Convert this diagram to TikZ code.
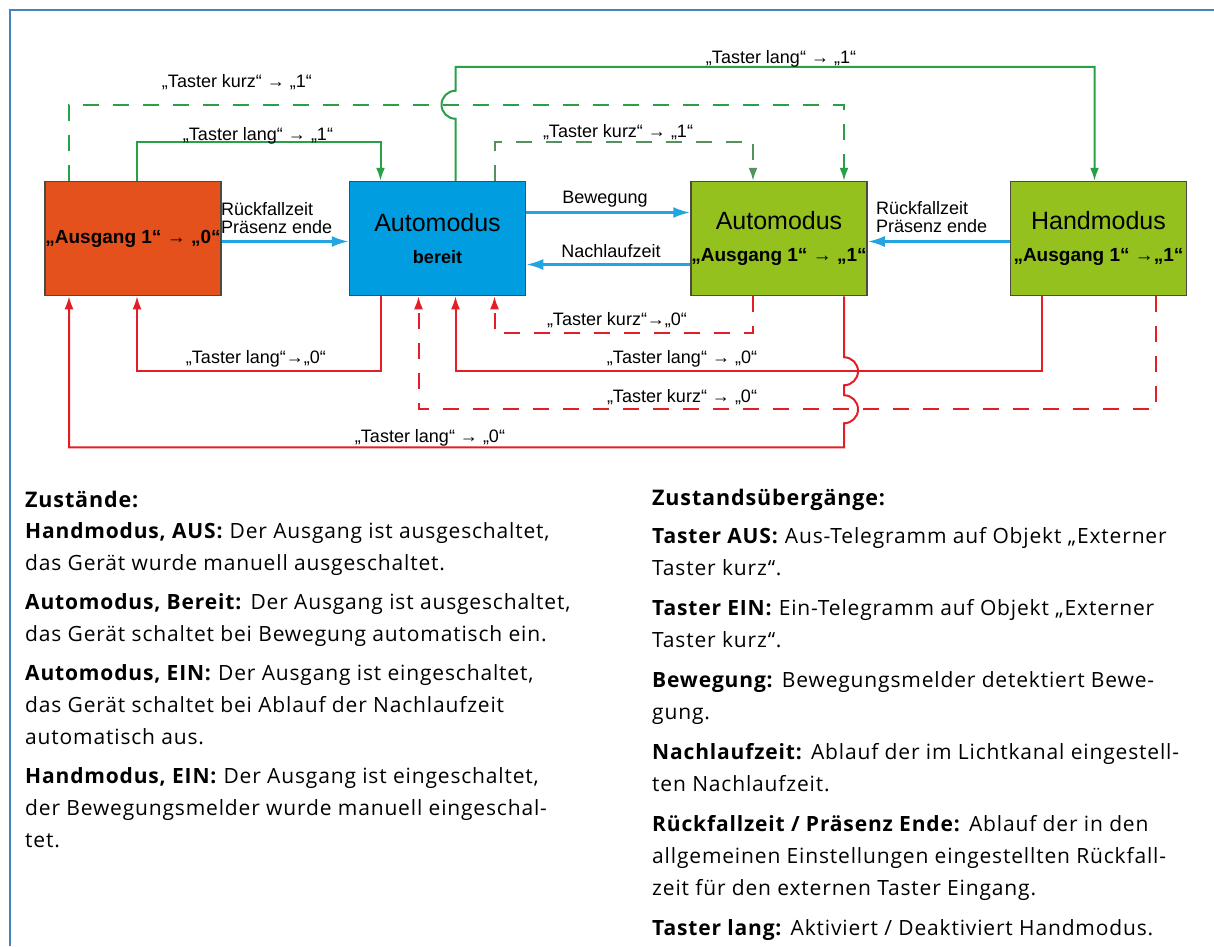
\documentclass[tikz,border=0pt]{standalone}
\usepackage{fontspec}
\setmainfont{Liberation Sans}
\newfontfamily\descfont{Open Sans}[LetterSpace=4.0]
\usetikzlibrary{positioning,arrows.meta}

\definecolor{rahmenblau}{RGB}{70,130,190}
\definecolor{ausorange}{RGB}{229,81,29}
\definecolor{bereitblau}{RGB}{0,158,224}
\definecolor{eingruen}{RGB}{149,193,31}
\definecolor{kastenrand}{RGB}{75,75,65}
\definecolor{pfeilgruen}{RGB}{40,160,70}
\definecolor{pfeilgrau}{RGB}{85,145,95}
\definecolor{pfeilrot}{RGB}{228,30,38}
\definecolor{pfeilblau}{RGB}{35,165,225}

\tikzset{
  zustand/.style={draw=kastenrand, line width=1.5pt, minimum width=176pt, minimum height=114pt, inner sep=0pt, align=center, font=\fontsize{25}{30}\selectfont},
  ein lang/.style={draw=pfeilgruen, line width=2pt, -{Latex[length=13pt,width=9pt]}},
  ein kurz/.style={ein lang, dash pattern=on 16pt off 14pt},
  aus lang/.style={draw=pfeilrot, line width=2pt, -{Latex[length=13pt,width=9pt]}},
  aus kurz/.style={aus lang, dash pattern=on 16pt off 14pt},
  zeit/.style={draw=pfeilblau, line width=2.5pt, -{Latex[length=17pt,width=11pt]}},
  beschr/.style={inner sep=0pt, anchor=base, font=\fontsize{18}{19}\selectfont},
  zweizeilig/.style={inner sep=0pt, anchor=north west, align=left, font=\fontsize{18}{18}\selectfont},
  kopf/.style={inner sep=0pt, anchor=base west, font=\descfont\fontsize{21.5}{28}\selectfont\bfseries},
  absatz/.style={inner sep=0pt, anchor=north west, align=left, font=\descfont\fontsize{21}{32}\selectfont},
}

\begin{document}
\begin{tikzpicture}[x=1pt, y=-1pt]
\useasboundingbox (0,0) rectangle (1214,946);
\draw[rahmenblau, line width=2pt] (10,946) -- (10,10) -- (1214,10);

\node[zustand, fill=ausorange] (aus) at (133,238.5) {\bfseries\fontsize{19}{22}\selectfont „Ausgang 1“ → „0“};
\node[zustand, fill=bereitblau, right=127pt of aus] (bereit) {Automodus\\[2pt]{\bfseries\fontsize{18}{20}\selectfont bereit}};
\node[zustand, fill=eingruen, right=164pt of bereit] (autoein) {Automodus\\[2pt]{\bfseries\fontsize{19}{20}\selectfont „Ausgang 1“ → „1“}};
\node[zustand, fill=eingruen, right=142pt of autoein] (handein) {Handmodus\\[2pt]{\bfseries\fontsize{19}{20}\selectfont „Ausgang 1“ →„1“}};

\draw[ein kurz] ([xshift=-64pt]aus.north) -- ++(0,-76) -| ([xshift=65pt]autoein.north);
\draw[ein lang] ([xshift=4pt]aus.north) -- ++(0,-39) -| ([xshift=-57pt]bereit.north);
\draw[ein lang] ([xshift=18pt]bereit.north) -- ++(0,-62) arc[start angle=270, end angle=90, radius=14pt] -- ++(0,-24) -| ([xshift=-4pt]handein.north);
\draw[ein kurz, draw=pfeilgrau] ([xshift=57pt]bereit.north) -- ++(0,-39) -| ([xshift=-26pt]autoein.north);

\draw[zeit] ([yshift=-3pt]aus.east) -- ([yshift=-3pt]bereit.west);
\draw[zeit] ([yshift=26pt]bereit.east) -- ([yshift=26pt]autoein.west);
\draw[zeit] ([yshift=-26pt]autoein.west) -- ([yshift=-26pt]bereit.east);
\draw[zeit] ([yshift=-3pt]handein.west) -- ([yshift=-3pt]autoein.east);

\draw[aus lang] ([xshift=-57pt]bereit.south) -- ++(0,75) -| ([xshift=4pt]aus.south);
\draw[aus kurz] ([xshift=-26pt]autoein.south) -- ++(0,37) -| ([xshift=57pt]bereit.south);
\draw[aus lang] ([xshift=-57pt]handein.south) -- ++(0,75) -| ([xshift=18pt]bereit.south);
\draw[aus kurz] ([xshift=57pt]handein.south) -- ++(0,113) -| ([xshift=-19pt]bereit.south);
\draw[aus lang] ([xshift=65pt]autoein.south) -- ++(0,61) arc[start angle=90, end angle=-90, radius=14pt] -- ++(0,10) arc[start angle=90, end angle=-90, radius=14pt] -- ++(0,24) -| ([xshift=-64pt]aus.south);

\node[beschr] (kurz1links) at (237,87) {„Taster kurz“ → „1“};
\node[beschr] (lang1links) at (258,140) {„Taster lang“ → „1“};
\node[beschr] (kurz1mitte) at (618,137) {„Taster kurz“ → „1“};
\node[beschr] (lang1rechts) at (781,63) {„Taster lang“ → „1“};
\node[beschr] (lang0links) at (256,363) {„Taster lang“→„0“};
\node[beschr] (kurz0mitte) at (617,325) {„Taster kurz“→„0“};
\node[beschr] (lang0mitte) at (682,363) {„Taster lang“ → „0“};
\node[beschr] (kurz0unten) at (682,402) {„Taster kurz“ → „0“};
\node[beschr] (lang0unten) at (430,442) {„Taster lang“ → „0“};
\node[beschr] (bewegung) at (605,203) {Bewegung};
\node[beschr] (nachlauf) at (611,257) {Nachlaufzeit};
\node[zweizeilig] (rueckfalllinks) at (221,202) {Rückfallzeit\\Präsenz ende};
\node[zweizeilig] (rueckfallrechts) at (876,201) {Rückfallzeit\\Präsenz ende};

\node[kopf] (kopfzustaende) at (25,507) {Zustände:};
\node[absatz] (zustaende) at (25,522) {\textbf{Handmodus, AUS:} Der Ausgang ist ausgeschaltet,\\
das Gerät wurde manuell ausgeschaltet.\\[7pt]
\textbf{Automodus, Bereit:} Der Ausgang ist ausgeschaltet,\\
das Gerät schaltet bei Bewegung automatisch ein.\\[7pt]
\textbf{Automodus, EIN:} Der Ausgang ist eingeschaltet,\\
das Gerät schaltet bei Ablauf der Nachlaufzeit\\
automatisch aus.\\[7pt]
\textbf{Handmodus, EIN:} Der Ausgang ist eingeschaltet,\\
der Bewegungsmelder wurde manuell eingeschal-\\
tet.};
\node[kopf] (kopfuebergaenge) at (652,505) {Zustandsübergänge:};
\node[absatz] (uebergaenge) at (652,527) {\textbf{Taster AUS:} Aus-Telegramm auf Objekt „Externer\\
Taster kurz“.\\[8pt]
\textbf{Taster EIN:} Ein-Telegramm auf Objekt „Externer\\
Taster kurz“.\\[8pt]
\textbf{Bewegung:} Bewegungsmelder detektiert Bewe-\\
gung.\\[8pt]
\textbf{Nachlaufzeit:} Ablauf der im Lichtkanal eingestell-\\
ten Nachlaufzeit.\\[8pt]
\textbf{Rückfallzeit / Präsenz Ende:} Ablauf der in den\\
allgemeinen Einstellungen eingestellten Rückfall-\\
zeit für den externen Taster Eingang.\\[8pt]
\textbf{Taster lang:} Aktiviert / Deaktiviert Handmodus.};
\end{tikzpicture}
\end{document}
